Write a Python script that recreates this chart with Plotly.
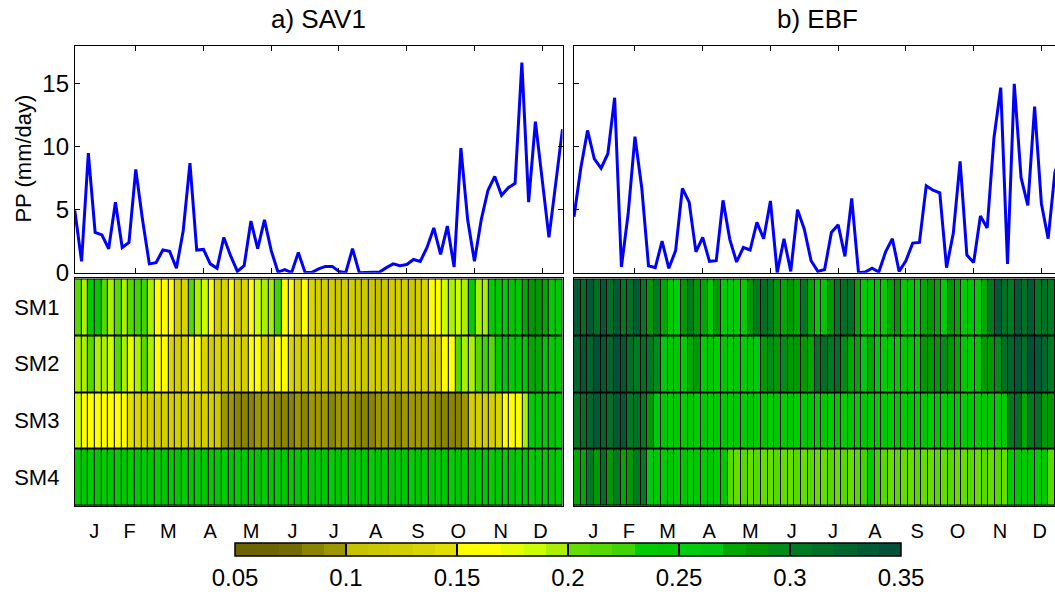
import plotly.graph_objects as go

W, H = 1055, 605

# ---------------- data ----------------
pentads = list(range(1, 74))
rows = [1, 2, 3, 4]
row_labels = ["SM1", "SM2", "SM3", "SM4"]
month_labels = ["J", "F", "M", "A", "M", "J", "J", "A", "S", "O", "N", "D"]
month_pos = [3.4, 8.7, 14.5, 20.75, 26.9, 33.1, 39.25, 45.55, 51.85, 57.9, 64.25, 70.2]
cbar_ticks = [0.05, 0.1, 0.15, 0.2, 0.25, 0.3, 0.35]
cbar_labels = ["0.05", "0.1", "0.15", "0.2", "0.25", "0.3", "0.35"]

sav_pp = [4.95, 0.9, 9.5, 3.2, 3.0, 1.9, 5.6, 2.0, 2.4, 8.2,
          4.2, 0.7, 0.8, 1.8, 1.7, 0.35, 3.3, 8.7, 1.8, 1.85,
          0.7, 0.35, 2.8, 1.35, 0.1, 0.55, 4.1, 1.9, 4.2, 1.75,
          0.05, 0.25, 0.0, 1.6, 0.02, 0.02, 0.3, 0.5, 0.5, 0.1,
          0.0, 1.9, 0.0, 0.0, 0.0, 0.05, 0.4, 0.7, 0.55, 0.65,
          1.05, 0.9, 2.0, 3.55, 1.45, 3.7, 0.45, 9.9, 4.2, 0.9,
          4.2, 6.55, 7.65, 6.15, 6.75, 7.1, 16.7, 5.6, 12.0, 7.4,
          2.8, 7.1, 11.4]

ebf_pp = [4.45, 8.3, 11.3, 9.05, 8.3, 9.45, 13.9, 0.45, 4.7, 10.8,
          6.75, 0.55, 0.4, 2.5, 0.35, 1.75, 6.7, 5.6, 1.65, 2.8,
          0.9, 0.95, 5.75, 2.65, 0.85, 2.0, 1.8, 4.0, 2.7, 5.7,
          0.0, 2.7, 0.1, 5.0, 3.45, 0.95, 0.1, 0.25, 3.2, 3.8,
          1.3, 5.9, 0.0, 0.05, 0.35, 0.05, 1.65, 2.7, 0.1, 0.95,
          2.35, 2.4, 6.9, 6.55, 6.35, 0.4, 3.15, 8.85, 1.4, 0.8,
          4.5, 3.55, 10.7, 14.7, 0.7, 15.0, 7.55, 5.35, 13.2, 5.5,
          2.7, 8.0, 9.5]

sav_sm1 = [0.215, 0.195, 0.235, 0.245, 0.215, 0.195, 0.215, 0.195, 0.215, 0.225,
           0.225, 0.195, 0.155, 0.165, 0.155, 0.125, 0.13, 0.215, 0.195, 0.185,
           0.16, 0.125, 0.13, 0.16, 0.125, 0.13, 0.16, 0.185, 0.19, 0.19,
           0.225, 0.155, 0.16, 0.13, 0.16, 0.13, 0.125, 0.12, 0.125, 0.115,
           0.125, 0.12, 0.115, 0.11, 0.115, 0.105, 0.11, 0.12, 0.125, 0.12,
           0.115, 0.125, 0.13, 0.16, 0.165, 0.185, 0.19, 0.185, 0.195, 0.235,
           0.195, 0.19, 0.235, 0.245, 0.235, 0.24, 0.245, 0.275, 0.28, 0.285,
           0.275, 0.235, 0.24]
sav_sm2 = [0.195, 0.19, 0.215, 0.195, 0.19, 0.185, 0.215, 0.195, 0.175, 0.19,
           0.215, 0.19, 0.16, 0.155, 0.13, 0.125, 0.135, 0.16, 0.155, 0.13,
           0.125, 0.13, 0.125, 0.135, 0.13, 0.125, 0.16, 0.155, 0.135, 0.13,
           0.16, 0.155, 0.13, 0.125, 0.125, 0.13, 0.12, 0.125, 0.12, 0.115,
           0.12, 0.125, 0.12, 0.115, 0.12, 0.125, 0.12, 0.115, 0.12, 0.125,
           0.12, 0.125, 0.12, 0.125, 0.135, 0.16, 0.165, 0.215, 0.195, 0.19,
           0.215, 0.225, 0.215, 0.235, 0.24, 0.235, 0.245, 0.24, 0.27, 0.275,
           0.24, 0.235, 0.24]
sav_sm3 = [0.185, 0.16, 0.165, 0.16, 0.165, 0.16, 0.165, 0.16, 0.145, 0.135,
           0.13, 0.125, 0.12, 0.125, 0.12, 0.125, 0.12, 0.125, 0.12, 0.125,
           0.12, 0.115, 0.095, 0.09, 0.085, 0.08, 0.085, 0.09, 0.095, 0.09,
           0.085, 0.08, 0.085, 0.09, 0.085, 0.09, 0.095, 0.09, 0.085, 0.09,
           0.095, 0.09, 0.085, 0.08, 0.085, 0.09, 0.095, 0.09, 0.085, 0.09,
           0.095, 0.09, 0.095, 0.09, 0.085, 0.08, 0.085, 0.085, 0.09, 0.12,
           0.125, 0.12, 0.125, 0.135, 0.155, 0.16, 0.165, 0.19, 0.235, 0.245,
           0.235, 0.24, 0.235]
sav_sm4 = [0.235, 0.24, 0.235, 0.245, 0.235, 0.24, 0.235, 0.245, 0.235, 0.24,
           0.235, 0.245, 0.235, 0.24, 0.235, 0.245, 0.235, 0.24, 0.235, 0.245,
           0.235, 0.24, 0.235, 0.245, 0.235, 0.24, 0.235, 0.245, 0.235, 0.24,
           0.235, 0.245, 0.235, 0.24, 0.235, 0.245, 0.235, 0.24, 0.235, 0.245,
           0.235, 0.24, 0.235, 0.245, 0.235, 0.24, 0.235, 0.245, 0.235, 0.24,
           0.235, 0.245, 0.235, 0.24, 0.235, 0.245, 0.235, 0.24, 0.235, 0.245,
           0.235, 0.24, 0.235, 0.245, 0.235, 0.24, 0.235, 0.245, 0.235, 0.24,
           0.235, 0.245, 0.235]

ebf_sm1 = [0.335, 0.315, 0.335, 0.315, 0.335, 0.315, 0.335, 0.305, 0.315, 0.335,
           0.305, 0.285, 0.305, 0.275, 0.235, 0.255, 0.285, 0.305, 0.285, 0.275,
           0.235, 0.285, 0.235, 0.265, 0.235, 0.235, 0.28, 0.305, 0.315, 0.305,
           0.285, 0.275, 0.285, 0.275, 0.305, 0.275, 0.235, 0.24, 0.285, 0.305,
           0.315, 0.315, 0.275, 0.235, 0.24, 0.245, 0.235, 0.275, 0.285, 0.235,
           0.24, 0.235, 0.275, 0.285, 0.275, 0.235, 0.285, 0.275, 0.235, 0.24,
           0.235, 0.275, 0.305, 0.335, 0.315, 0.305, 0.335, 0.315, 0.335, 0.305,
           0.315, 0.305, 0.31]
ebf_sm2 = [0.325, 0.335, 0.325, 0.345, 0.335, 0.325, 0.345, 0.33, 0.315, 0.305,
           0.31, 0.305, 0.295, 0.265, 0.24, 0.245, 0.235, 0.275, 0.285, 0.235,
           0.24, 0.235, 0.245, 0.235, 0.24, 0.235, 0.245, 0.265, 0.285, 0.295,
           0.285, 0.29, 0.285, 0.28, 0.285, 0.275, 0.305, 0.315, 0.305, 0.315,
           0.295, 0.275, 0.27, 0.265, 0.275, 0.265, 0.235, 0.24, 0.235, 0.245,
           0.24, 0.235, 0.285, 0.28, 0.285, 0.29, 0.285, 0.275, 0.24, 0.235,
           0.245, 0.28, 0.285, 0.29, 0.315, 0.325, 0.335, 0.315, 0.345, 0.335,
           0.325, 0.305, 0.3]
ebf_sm3 = [0.305, 0.31, 0.325, 0.335, 0.325, 0.315, 0.335, 0.335, 0.305, 0.31,
           0.3, 0.285, 0.265, 0.245, 0.235, 0.24, 0.235, 0.245, 0.235, 0.24,
           0.235, 0.24, 0.245, 0.235, 0.24, 0.235, 0.245, 0.235, 0.24, 0.235,
           0.245, 0.235, 0.24, 0.235, 0.24, 0.245, 0.235, 0.24, 0.235, 0.245,
           0.235, 0.24, 0.235, 0.245, 0.24, 0.235, 0.24, 0.235, 0.245, 0.235,
           0.24, 0.235, 0.245, 0.235, 0.24, 0.235, 0.245, 0.24, 0.235, 0.24,
           0.235, 0.245, 0.24, 0.235, 0.24, 0.305, 0.31, 0.275, 0.305, 0.315,
           0.285, 0.28, 0.285]
ebf_sm4 = [0.275, 0.27, 0.305, 0.285, 0.31, 0.285, 0.305, 0.275, 0.285, 0.305,
           0.3, 0.265, 0.245, 0.235, 0.24, 0.235, 0.245, 0.235, 0.24, 0.235,
           0.245, 0.235, 0.24, 0.215, 0.205, 0.215, 0.205, 0.215, 0.21, 0.205,
           0.215, 0.205, 0.21, 0.215, 0.205, 0.215, 0.21, 0.205, 0.215, 0.205,
           0.215, 0.21, 0.215, 0.225, 0.235, 0.225, 0.215, 0.205, 0.215, 0.21,
           0.205, 0.215, 0.205, 0.21, 0.215, 0.205, 0.215, 0.21, 0.205, 0.215,
           0.21, 0.215, 0.205, 0.215, 0.21, 0.235, 0.24, 0.235, 0.245, 0.235,
           0.24, 0.215, 0.235]

# 30-level colormap (0.05 .. 0.35, steps of 0.01)
cmap_colors = ["#6B6400", "#6D6600", "#716B00", "#8A8500", "#9C9600",
               "#C6C200", "#CCC800", "#D2CE00", "#D9D500", "#E2DE00",
               "#FFFF00", "#FFFF00", "#E6FF00", "#CCFF00", "#AAF000",
               "#66DD00", "#55D900", "#40D400", "#00CC00", "#00C800",
               "#00CC10", "#00C810", "#00A800", "#009900", "#008C18",
               "#007A22", "#007026", "#00662E", "#005A36", "#00503A"]

# ---------------- helpers ----------------
def fx(px):
    return px / W

def fy(py):
    return 1 - py / H

FONT = "Liberation Sans"
n = len(cmap_colors)
colorscale = []
for i, c in enumerate(cmap_colors):
    colorscale.append([i / n, c])
    colorscale.append([(i + 1) / n, c])

L0, L1 = 74.8, 562.5
R0 = 574.0
ppu = (L1 - L0) / 72.0          # px per pentad on line axes
cw = (L1 - L0) / 73.0           # heatmap cell width
top_y = [fy(282), fy(47.7)]
hm_y = [fy(523), fy(288)]

fig = go.Figure()

fig.add_trace(go.Scatter(x=pentads, y=sav_pp, mode="lines",
                         line=dict(color="#0000FF", width=3),
                         xaxis="x", yaxis="y", showlegend=False))
fig.add_trace(go.Scatter(x=pentads, y=ebf_pp, mode="lines",
                         line=dict(color="#0000FF", width=3),
                         xaxis="x2", yaxis="y2", showlegend=False))

fig.add_trace(go.Heatmap(x=pentads, y=rows, z=[sav_sm1, sav_sm2, sav_sm3, sav_sm4],
                         coloraxis="coloraxis", xgap=1, ygap=2,
                         xaxis="x3", yaxis="y3"))
fig.add_trace(go.Heatmap(x=pentads, y=rows, z=[ebf_sm1, ebf_sm2, ebf_sm3, ebf_sm4],
                         coloraxis="coloraxis", xgap=1, ygap=2,
                         xaxis="x4", yaxis="y4"))

def tf(size):
    return dict(family=FONT, size=size, color="black")

axis_common = dict(showgrid=False, zeroline=False, linecolor="black", linewidth=1,
                   tickcolor="black")

right_max_line = 1 + (W - R0) / ppu
right_max_hm = 0.5 + (W - R0) / cw

fig.update_layout(
    width=W, height=H,
    margin=dict(l=0, r=0, t=0, b=0),
    paper_bgcolor="white", plot_bgcolor="white",
    font=dict(family=FONT, color="black"),
    xaxis=dict(domain=[fx(L0), fx(L1)], range=[1, 73], anchor="y",
               tickvals=[10, 20, 30, 40, 50, 60, 70], ticks="inside", ticklen=5,
               showticklabels=False, showline=True, mirror="ticks", **axis_common),
    yaxis=dict(domain=top_y, range=[0, 18], anchor="x",
               tickvals=[0, 5, 10, 15], ticks="inside", ticklen=5, tickfont=tf(24),
               showline=True, mirror="ticks", **axis_common),
    xaxis2=dict(domain=[fx(R0), 1.0], range=[1, right_max_line], anchor="y2",
                tickvals=[10, 20, 30, 40, 50, 60, 70], ticks="inside", ticklen=5,
                showticklabels=False, showline=True, mirror="ticks", **axis_common),
    yaxis2=dict(domain=top_y, range=[0, 18], anchor="x2",
                tickvals=[0, 5, 10, 15], ticks="inside", ticklen=5,
                showticklabels=False, showline=True, mirror=False, **axis_common),
    xaxis3=dict(domain=[fx(L0), fx(L1)], range=[0.5, 73.5], anchor="y3",
                tickvals=month_pos, ticktext=month_labels, ticks="", tickfont=tf(20),
                ticklabelstandoff=7, showline=True, mirror=True, **axis_common),
    yaxis3=dict(domain=hm_y, range=[4.5, 0.5], anchor="x3",
                tickvals=rows, ticktext=row_labels, ticks="", tickfont=tf(22),
                ticklabelstandoff=10, showline=True, mirror=True, **axis_common),
    xaxis4=dict(domain=[fx(R0), 1.0], range=[0.5, right_max_hm], anchor="y4",
                tickvals=month_pos, ticktext=month_labels, ticks="", tickfont=tf(20),
                ticklabelstandoff=7, showline=True, mirror=True, **axis_common),
    yaxis4=dict(domain=hm_y, range=[4.5, 0.5], anchor="x4",
                tickvals=rows, showticklabels=False, ticks="",
                showline=True, mirror=False, **axis_common),
    coloraxis=dict(
        cmin=0.05, cmax=0.35, colorscale=colorscale,
        colorbar=dict(orientation="h", x=fx((235 + 901) / 2), xanchor="center",
                      y=fy(561.5), yanchor="top", len=(901 - 235) / W, lenmode="fraction",
                      thickness=12.5, thicknessmode="pixels", xpad=0, ypad=0,
                      outlinewidth=1.5, outlinecolor="black",
                      tickvals=cbar_ticks, ticktext=cbar_labels,
                      ticks="inside", ticklen=12.5, tickwidth=1.5, tickcolor="black",
                      tickfont=tf(24)),
    ),
    shapes=[
        dict(type="rect", xref="x3 domain", yref="y3 domain", x0=0, x1=1, y0=0, y1=1,
             fillcolor="black", line=dict(width=0), layer="below"),
        dict(type="rect", xref="x4 domain", yref="y4 domain", x0=0, x1=1, y0=0, y1=1,
             fillcolor="black", line=dict(width=0), layer="below"),
    ],
    annotations=[
        dict(text="a) SAV1", x=fx((L0 + L1) / 2), y=fy(20), xref="paper", yref="paper",
             showarrow=False, xanchor="center", yanchor="middle", font=tf(26)),
        dict(text="b) EBF", x=fx(R0 + (L1 - L0) / 2), y=fy(20), xref="paper", yref="paper",
             showarrow=False, xanchor="center", yanchor="middle", font=tf(26)),
        dict(text="PP (mm/day)", x=fx(24), y=fy(164), xref="paper", yref="paper",
             showarrow=False, xanchor="center", yanchor="middle", textangle=-90,
             font=tf(22)),
    ],
)

fig.write_html("out.html", config={"displayModeBar": False},
               post_script="document.body.style.margin='0px';")
